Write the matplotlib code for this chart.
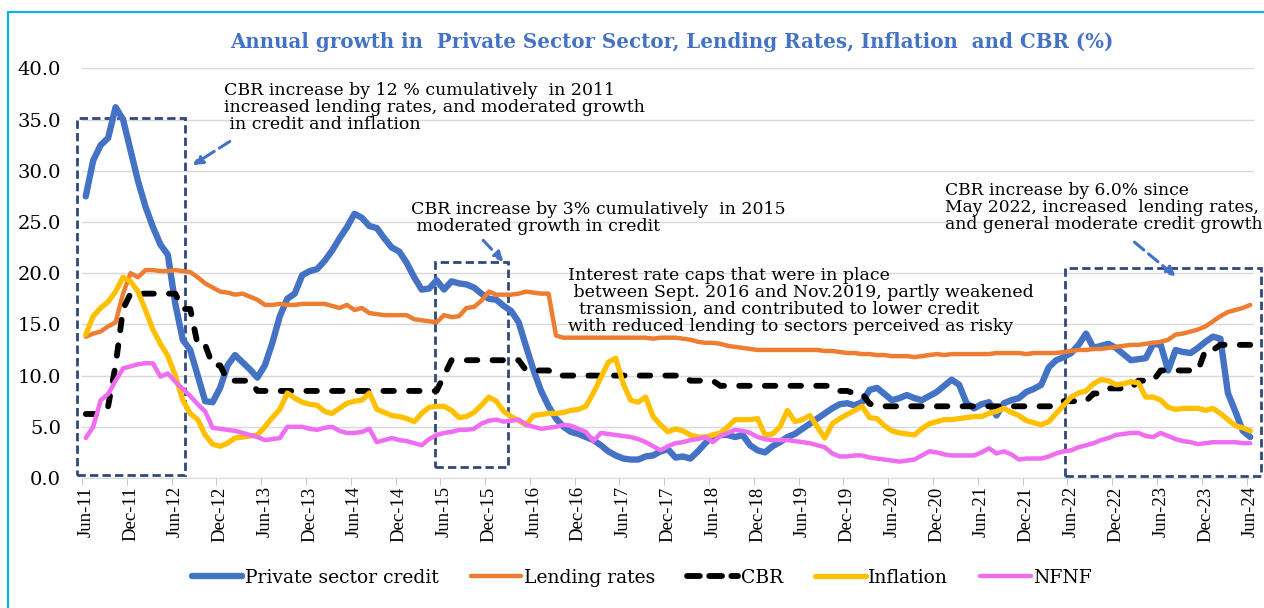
import numpy as np
import matplotlib
matplotlib.use('Agg')
from matplotlib import pyplot as plt
from matplotlib.lines import Line2D
from matplotlib.patches import Rectangle

# monthly data, Jun-11 .. Jun-24 (one row = Jun..May)
credit = [27.5, 31.0, 32.5, 33.2, 36.2, 35.0, 32.0, 29.0, 26.5, 24.5, 22.8, 21.8,
          17.0, 13.5, 12.5, 10.0, 7.5, 7.4, 8.8, 11.0, 12.0, 11.3, 10.6, 9.8,
          11.0, 13.2, 15.8, 17.5, 18.0, 19.8, 20.2, 20.4, 21.2, 22.2, 23.4, 24.5,
          25.8, 25.4, 24.6, 24.4, 23.4, 22.5, 22.1, 21.0, 19.6, 18.4, 18.5, 19.3,
          18.4, 19.2, 19.0, 18.9, 18.6, 18.0, 17.5, 17.4, 16.8, 16.3, 15.2, 12.8,
          10.5, 8.5, 7.0, 5.8, 5.0, 4.5, 4.3, 4.0, 3.7, 3.2, 2.6, 2.2,
          1.9, 1.8, 1.8, 2.1, 2.2, 2.6, 2.8, 2.0, 2.1, 1.9, 2.6, 3.4,
          4.1, 4.2, 4.2, 4.0, 4.2, 3.2, 2.7, 2.5, 3.1, 3.5, 4.0, 4.3,
          4.8, 5.3, 5.8, 6.3, 6.8, 7.2, 7.3, 7.1, 7.4, 8.6, 8.8, 8.2,
          7.6, 7.8, 8.1, 7.8, 7.6, 8.0, 8.4, 9.0, 9.6, 9.1, 7.3, 6.8,
          7.2, 7.4, 6.1, 7.3, 7.6, 7.8, 8.4, 8.7, 9.1, 10.8, 11.5, 11.8,
          12.2, 13.0, 14.1, 12.7, 12.9, 13.1, 12.7, 12.1, 11.5, 11.6, 11.7, 13.1,
          13.0, 10.5, 12.5, 12.3, 12.2, 12.7, 13.3, 13.8, 13.6, 8.3, 6.5, 4.6,
          4.0]

lending = [13.8, 14.1, 14.3, 14.8, 15.2, 18.0, 20.0, 19.6, 20.3, 20.3, 20.2, 20.2,
           20.3, 20.2, 20.1, 19.6, 19.0, 18.6, 18.2, 18.1, 17.9, 18.0, 17.7, 17.4,
           16.9, 16.9, 17.0, 16.9, 16.9, 17.0, 17.0, 17.0, 17.0, 16.8, 16.6, 16.9,
           16.4, 16.6, 16.1, 16.0, 15.9, 15.9, 15.9, 15.9, 15.5, 15.4, 15.3, 15.2,
           15.9, 15.7, 15.8, 16.6, 16.7, 17.3, 18.2, 17.9, 17.9, 17.9, 18.0, 18.2,
           18.1, 18.0, 18.0, 13.9, 13.7, 13.7, 13.7, 13.7, 13.7, 13.7, 13.7, 13.7,
           13.7, 13.7, 13.7, 13.7, 13.6, 13.7, 13.7, 13.7, 13.6, 13.5, 13.3, 13.2,
           13.2, 13.1, 12.9, 12.8, 12.7, 12.6, 12.5, 12.5, 12.5, 12.5, 12.5, 12.5,
           12.5, 12.5, 12.5, 12.4, 12.4, 12.3, 12.2, 12.2, 12.1, 12.1, 12.0, 12.0,
           11.9, 11.9, 11.9, 11.8, 11.9, 12.0, 12.1, 12.0, 12.1, 12.1, 12.1, 12.1,
           12.1, 12.1, 12.2, 12.2, 12.2, 12.2, 12.1, 12.2, 12.2, 12.2, 12.2, 12.3,
           12.4, 12.5, 12.5, 12.6, 12.6, 12.7, 12.8, 12.9, 13.0, 13.0, 13.1, 13.2,
           13.3, 13.5, 14.0, 14.1, 14.3, 14.5, 14.8, 15.3, 15.8, 16.2, 16.4, 16.6,
           16.9]

cbr = [6.25, 6.25, 6.25, 7.0, 11.0, 16.5, 18.0, 18.0, 18.0, 18.0, 18.0, 18.0,
       18.0, 16.5, 16.5, 13.0, 13.0, 11.0, 11.0, 9.5, 9.5, 9.5, 9.5, 8.5,
       8.5, 8.5, 8.5, 8.5, 8.5, 8.5, 8.5, 8.5, 8.5, 8.5, 8.5, 8.5,
       8.5, 8.5, 8.5, 8.5, 8.5, 8.5, 8.5, 8.5, 8.5, 8.5, 8.5, 8.5,
       10.0, 11.5, 11.5, 11.5, 11.5, 11.5, 11.5, 11.5, 11.5, 11.5, 11.5, 10.5,
       10.5, 10.5, 10.5, 10.0, 10.0, 10.0, 10.0, 10.0, 10.0, 10.0, 10.0, 10.0,
       10.0, 10.0, 10.0, 10.0, 10.0, 10.0, 10.0, 10.0, 10.0, 9.5, 9.5, 9.5,
       9.5, 9.0, 9.0, 9.0, 9.0, 9.0, 9.0, 9.0, 9.0, 9.0, 9.0, 9.0,
       9.0, 9.0, 9.0, 9.0, 9.0, 8.5, 8.5, 8.25, 8.25, 7.25, 7.0, 7.0,
       7.0, 7.0, 7.0, 7.0, 7.0, 7.0, 7.0, 7.0, 7.0, 7.0, 7.0, 7.0,
       7.0, 7.0, 7.0, 7.0, 7.0, 7.0, 7.0, 7.0, 7.0, 7.0, 7.0, 7.5,
       7.5, 7.5, 7.5, 8.25, 8.25, 8.75, 8.75, 8.75, 8.75, 9.5, 9.5, 9.5,
       10.5, 10.5, 10.5, 10.5, 10.5, 10.5, 12.5, 12.5, 13.0, 13.0, 13.0, 13.0,
       13.0]

inflation = [14.0, 15.8, 16.6, 17.2, 18.2, 19.6, 19.2, 18.2, 16.4, 14.5, 13.1, 11.9,
             10.0, 7.6, 6.3, 5.7, 4.2, 3.3, 3.1, 3.4, 3.9, 4.0, 4.1, 4.2,
             5.0, 5.9, 6.7, 8.3, 7.8, 7.4, 7.2, 7.1, 6.5, 6.3, 6.8, 7.3,
             7.5, 7.6, 8.3, 6.7, 6.4, 6.1, 6.0, 5.8, 5.5, 6.3, 6.9, 7.0,
             7.0, 6.6, 5.9, 6.0, 6.4, 7.1, 7.9, 7.5, 6.5, 6.0, 5.6, 5.2,
             6.1, 6.2, 6.3, 6.3, 6.4, 6.6, 6.7, 7.0, 8.3, 9.8, 11.3, 11.7,
             9.2, 7.6, 7.4, 7.9, 6.0, 5.2, 4.5, 4.8, 4.6, 4.2, 4.0, 4.0,
             4.2, 4.4, 5.0, 5.7, 5.7, 5.7, 5.8, 4.2, 4.3, 5.0, 6.6, 5.5,
             5.7, 6.1, 5.0, 3.9, 5.3, 5.8, 6.2, 6.6, 7.0, 5.9, 5.8, 5.1,
             4.6, 4.4, 4.3, 4.2, 4.8, 5.3, 5.5, 5.7, 5.7, 5.8, 5.9, 6.0,
             6.0, 6.3, 6.5, 6.8, 6.4, 6.1, 5.6, 5.4, 5.2, 5.5, 6.3, 7.1,
             7.9, 8.3, 8.5, 9.2, 9.6, 9.5, 9.1, 9.2, 9.4, 9.3, 7.9, 7.9,
             7.6, 6.9, 6.7, 6.8, 6.8, 6.8, 6.6, 6.8, 6.3, 5.7, 5.1, 4.9,
             4.6]

nfnf = [3.9, 5.0, 7.6, 8.2, 9.5, 10.7, 10.9, 11.1, 11.2, 11.2, 9.9, 10.2,
        9.4, 8.7, 8.0, 7.2, 6.5, 4.9, 4.8, 4.7, 4.6, 4.4, 4.2, 4.0,
        3.7, 3.8, 3.9, 5.0, 5.0, 5.0, 4.8, 4.7, 4.9, 5.0, 4.6, 4.4,
        4.4, 4.5, 4.8, 3.5, 3.7, 3.9, 3.7, 3.6, 3.4, 3.2, 3.8, 4.2,
        4.4, 4.5, 4.7, 4.7, 4.8, 5.3, 5.6, 5.7, 5.5, 5.6, 5.7, 5.2,
        5.0, 4.8, 4.9, 5.0, 5.2, 5.1, 4.8, 4.5, 3.6, 4.4, 4.3, 4.2,
        4.1, 4.0, 3.8, 3.5, 3.1, 2.7, 3.1, 3.4, 3.5, 3.7, 3.8, 4.0,
        3.5, 4.1, 4.4, 4.7, 4.6, 4.4, 4.0, 3.8, 3.7, 3.7, 3.7, 3.6,
        3.5, 3.4, 3.2, 3.0, 2.4, 2.1, 2.1, 2.2, 2.2, 2.0, 1.9, 1.8,
        1.7, 1.6, 1.7, 1.8, 2.2, 2.6, 2.5, 2.3, 2.2, 2.2, 2.2, 2.2,
        2.5, 2.9, 2.4, 2.6, 2.3, 1.8, 1.9, 1.9, 1.9, 2.1, 2.4, 2.6,
        2.7, 3.0, 3.2, 3.4, 3.7, 3.9, 4.2, 4.3, 4.4, 4.4, 4.1, 4.0,
        4.4, 4.1, 3.8, 3.6, 3.5, 3.3, 3.4, 3.5, 3.5, 3.5, 3.5, 3.4,
        3.4]

xlabels = ['Jun-11', 'Dec-11', 'Jun-12', 'Dec-12', 'Jun-13', 'Dec-13', 'Jun-14',
           'Dec-14', 'Jun-15', 'Dec-15', 'Jun-16', 'Dec-16', 'Jun-17', 'Dec-17',
           'Jun-18', 'Dec-18', 'Jun-19', 'Dec-19', 'Jun-20', 'Dec-20', 'Jun-21',
           'Dec-21', 'Jun-22', 'Dec-22', 'Jun-23', 'Dec-23', 'Jun-24']

for s in (credit, lending, cbr, inflation, nfnf):
    assert len(s) == 157, len(s)

months = np.arange(len(credit))

serif = 'Liberation Serif'
wide = 'DejaVu Serif'

fig = plt.figure(figsize=(12.64, 6.08), dpi=100)
ax = fig.add_axes([82/1264, 1-478/608, 1172/1264, 409.7/608])

ax.plot(months, credit, color='#4472C4', lw=4.6, solid_joinstyle='round', solid_capstyle='round', zorder=3)
ax.plot(months, lending, color='#ED7D31', lw=3.2, solid_joinstyle='round', solid_capstyle='round', zorder=4)
ax.plot(months, cbr, color='black', lw=4.2, linestyle=(0, (1.8, 2.6)), dash_capstyle='round',
        dash_joinstyle='round', zorder=5)
ax.plot(months, inflation, color='#FFC000', lw=3.8, solid_joinstyle='round', solid_capstyle='round', zorder=6)
ax.plot(months, nfnf, color='#F06CF0', lw=3.2, solid_joinstyle='round', solid_capstyle='round', zorder=7)

ax.set_xlim(-0.5, 156.5)
ax.set_ylim(0, 40)
ax.set_yticks(np.arange(0, 41, 5))
ax.set_yticklabels(['%.1f' % v for v in np.arange(0, 41, 5)], family=wide, fontsize=14)
ax.set_xticks(np.arange(0, 157, 6))
ax.set_xticklabels(xlabels, rotation=90, family=serif, fontsize=13.5)
ax.set_xticks(np.arange(-0.5, 157, 6), minor=True)
ax.tick_params(axis='y', length=0, pad=15)
ax.tick_params(axis='x', which='major', length=0, pad=6)
ax.tick_params(axis='x', which='minor', length=5, color='#BFBFBF')
ax.grid(axis='y', color='#D9D9D9', lw=1)
ax.set_axisbelow(True)
for side in ('top', 'right', 'left'):
    ax.spines[side].set_visible(False)
ax.spines['bottom'].set_color('#D9D9D9')

# dashed boxes
box_kw = dict(fill=False, edgecolor='#2F4A7A', lw=2.0, linestyle=(0, (3, 1.5)), clip_on=False, zorder=2)
ax.add_patch(Rectangle((-1.2, 0.3), 14.5, 34.8, **box_kw))
ax.add_patch(Rectangle((46.8, 1.1), 9.8, 20.0, **box_kw))
ax.add_patch(Rectangle((131.2, 0.15), 26.3, 20.35, **box_kw))

# arrows
arr_kw = dict(arrowstyle='-|>', color='#4472C4', lw=2.2, linestyle=(0, (4, 2)), mutation_scale=14)
ax.annotate('', xy=(14.0, 30.4), xytext=(19.6, 33.0), arrowprops=arr_kw, annotation_clip=False)
ax.annotate('', xy=(56.2, 20.9), xytext=(53.0, 23.4), arrowprops=arr_kw, annotation_clip=False)
ax.annotate('', xy=(146.3, 19.5), xytext=(140.2, 23.2), arrowprops=arr_kw, annotation_clip=False)

txt_kw = dict(family=wide, fontsize=12.5, va='top', ha='left', linespacing=1.0, zorder=8)
ax.text(18.5, 38.7, 'CBR increase by 12 % cumulatively  in 2011\n'
        'increased lending rates, and moderated growth\n'
        ' in credit and inflation', **txt_kw)
ax.text(43.6, 27.0, 'CBR increase by 3% cumulatively  in 2015\n'
        ' moderated growth in credit', **txt_kw)
ax.text(64.6, 20.6, 'Interest rate caps that were in place\n'
        ' between Sept. 2016 and Nov.2019, partly weakened\n'
        '  transmission, and contributed to lower credit\n'
        'with reduced lending to sectors perceived as risky', **txt_kw)
ax.text(115.1, 28.9, 'CBR increase by 6.0% since\n'
        'May 2022, increased  lending rates,\n'
        'and general moderate credit growth', family=wide, fontsize=12.3, va='top', ha='left',
        linespacing=1.0, zorder=8)

fig.text(672/1264, 1-42/608, 'Annual growth in  Private Sector Sector, Lending Rates, Inflation  and CBR (%)',
         ha='center', va='center', family=wide, fontsize=14.3, fontweight='bold', color='#4472C4')

handles = [Line2D([], [], color='#4472C4', lw=4.6, solid_capstyle='round'),
           Line2D([], [], color='#ED7D31', lw=3.2, solid_capstyle='round'),
           Line2D([], [], color='black', lw=4.2, linestyle=(0, (2.2, 1.6)), dash_capstyle='round'),
           Line2D([], [], color='#FFC000', lw=3.8, solid_capstyle='round'),
           Line2D([], [], color='#F06CF0', lw=3.2, solid_capstyle='round')]
names = ['Private sector credit', 'Lending rates', 'CBR', 'Inflation', 'NFNF']
fig.legend(handles, names, loc='center', bbox_to_anchor=(642/1264, 1-578/608), ncol=5, frameon=False,
           prop={'family': wide, 'size': 13.5}, handlelength=2.7, handletextpad=0.15, columnspacing=1.7)

# outer frame (top and left edges visible)
fig.add_artist(Line2D([8/1264, 1], [1-12/608, 1-12/608], color='#00B0F0', lw=1.5))
fig.add_artist(Line2D([8/1264, 8/1264], [0, 1-12/608], color='#00B0F0', lw=1.5))

fig.savefig('out.png', dpi=100)
